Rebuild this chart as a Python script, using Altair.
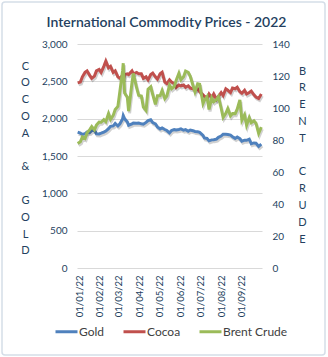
import altair as alt
import pandas as pd

dates = [
    "2021-12-30",
    "2022-01-03", "2022-01-06", "2022-01-10", "2022-01-13", "2022-01-17", "2022-01-20", "2022-01-24", "2022-01-27", "2022-01-31",
    "2022-02-03", "2022-02-07", "2022-02-10", "2022-02-14", "2022-02-17", "2022-02-21", "2022-02-24", "2022-02-28",
    "2022-03-03", "2022-03-07", "2022-03-08", "2022-03-10", "2022-03-14", "2022-03-16", "2022-03-21", "2022-03-23", "2022-03-28", "2022-03-31",
    "2022-04-04", "2022-04-07", "2022-04-11", "2022-04-14", "2022-04-18", "2022-04-21", "2022-04-25", "2022-04-28",
    "2022-05-02", "2022-05-05", "2022-05-09", "2022-05-12", "2022-05-16", "2022-05-19", "2022-05-23", "2022-05-26", "2022-05-30",
    "2022-06-02", "2022-06-06", "2022-06-09", "2022-06-13", "2022-06-16", "2022-06-20", "2022-06-23", "2022-06-27", "2022-06-30",
    "2022-07-05", "2022-07-07", "2022-07-11", "2022-07-14", "2022-07-18", "2022-07-21", "2022-07-25", "2022-07-28",
    "2022-08-01", "2022-08-04", "2022-08-08", "2022-08-11", "2022-08-15", "2022-08-18", "2022-08-22", "2022-08-25", "2022-08-29",
    "2022-09-01", "2022-09-05", "2022-09-08", "2022-09-12", "2022-09-15", "2022-09-19", "2022-09-22", "2022-09-26", "2022-09-30",
]

gold = [
    1820,
    1806, 1789, 1799, 1822, 1817, 1840, 1843, 1797, 1795,
    1805, 1820, 1834, 1866, 1898, 1903, 1935, 1902,
    1932, 1995, 2039, 1998, 1958, 1912, 1930, 1942, 1940, 1942,
    1931, 1925, 1950, 1973, 1985, 1948, 1930, 1890,
    1863, 1877, 1855, 1841, 1810, 1842, 1853, 1849, 1856,
    1863, 1845, 1853, 1831, 1848, 1839, 1829, 1825, 1817,
    1777, 1742, 1735, 1703, 1716, 1717, 1725, 1750,
    1767, 1792, 1790, 1788, 1779, 1759, 1736, 1754, 1732,
    1699, 1712, 1710, 1725, 1664, 1675, 1671, 1630, 1660,
]

cocoa = [
    2480,
    2490, 2560, 2620, 2640, 2580, 2540, 2570, 2640, 2660,
    2620, 2700, 2770, 2680, 2700, 2620, 2640, 2560,
    2540, 2580, 2520, 2590, 2600, 2590, 2640, 2600, 2620, 2600,
    2600, 2540, 2560, 2520, 2590, 2610, 2560, 2530,
    2600, 2620, 2490, 2470, 2520, 2490, 2470, 2420, 2450,
    2440, 2450, 2420, 2440, 2410, 2400, 2380, 2400, 2360,
    2320, 2300, 2270, 2330, 2280, 2330, 2260, 2300,
    2350, 2310, 2400, 2380, 2350, 2410, 2400, 2420, 2360,
    2340, 2380, 2330, 2350, 2370, 2320, 2290, 2270, 2330,
]

brent = [
    77.8,
    78.9, 81.9, 80.9, 84.5, 86.5, 88.4, 86.3, 89.3, 91.2,
    91.1, 92.7, 91.4, 96.5, 92.9, 95.4, 99.1, 101.0,
    110.5, 123.2, 128.0, 109.3, 106.9, 98.0, 115.6, 121.6, 112.5, 107.9,
    107.5, 100.6, 98.5, 111.7, 113.2, 108.3, 102.3, 107.6,
    107.6, 110.9, 105.9, 107.5, 114.2, 112.0, 113.4, 117.4, 121.7,
    117.6, 119.5, 123.1, 122.3, 119.8, 114.1, 110.1, 115.1, 114.8,
    102.8, 104.7, 107.1, 99.1, 106.3, 103.9, 105.2, 107.1,
    100.0, 94.1, 96.7, 99.6, 95.1, 96.6, 96.5, 99.3, 105.1,
    92.4, 95.7, 89.2, 94.0, 90.8, 92.0, 90.5, 84.1, 88.0,
]

series_names = ["Gold", "Cocoa", "Brent Crude"]
series_colors = ["#4F81BD", "#C0504D", "#9BBB59"]
month_ticks = [alt.DateTime(year=2022, month=m, date=1, utc=True) for m in range(1, 10)]
left_ticks = [0, 500, 1000, 1500, 2000, 2500, 3000]
right_ticks = [0, 20, 40, 60, 80, 100, 120, 140]
BL = "\u200b"
left_title = ["C", "O", "C", "O", "A", BL, "&", BL, "G", "O", "L", "D"]
right_title = ["B", "R", "E", "N", "T", BL, "C", "R", "U", "D", "E"]

left_df = pd.DataFrame({
    "date": dates * 2,
    "value": gold + cocoa,
    "series": ["Gold"] * len(dates) + ["Cocoa"] * len(dates),
})
right_df = pd.DataFrame({"date": dates, "value": brent, "series": ["Brent Crude"] * len(dates)})

TXT = "#243F60"
FONT = "Lato"

x_enc = alt.X(
    "date:T",
    scale=alt.Scale(
        type="utc",
        domain=[alt.DateTime(year=2021, month=12, date=29, utc=True),
                alt.DateTime(year=2022, month=10, date=1, utc=True)],
    ),
    axis=alt.Axis(
        title=None, values=month_ticks,
        labelExpr="utcFormat(datum.value, '%d/%m/%y')",
        labelAngle=-90, labelPadding=7, labelFontSize=9.5, labelColor=TXT,
        labelFont=FONT, domain=False, ticks=False, grid=False,
    ),
)

color_enc = alt.Color(
    "series:N",
    scale=alt.Scale(domain=series_names, range=series_colors),
    legend=alt.Legend(
        title=None, orient="none", legendX=-23, legendY=275, direction="horizontal",
        symbolType="stroke", symbolStrokeWidth=3, symbolSize=484,
        labelFontSize=12, labelColor="#404040", labelFont=FONT,
        labelOffset=0, columnPadding=12,
    ),
)

y_left = alt.Y(
    "value:Q",
    scale=alt.Scale(domain=[0, 3000]),
    axis=alt.Axis(
        orient="left", values=left_ticks,
        labelExpr="format(datum.value, ',')",
        labelFontSize=10, labelColor=TXT, labelFont=FONT, labelPadding=10,
        domain=False, ticks=False, grid=True, gridColor="#D9D9D9",
        title=left_title,
        titleAngle=0, titleAlign="center", titleBaseline="top",
        titleX=-52, titleY=16, titleLineHeight=16.8, titleFontSize=11,
        titleFontWeight="normal", titleColor=TXT, titleFont=FONT,
    ),
)

y_right = alt.Y(
    "value:Q",
    scale=alt.Scale(domain=[0, 140]),
    axis=alt.Axis(
        orient="right", values=right_ticks,
        labelFontSize=10, labelColor=TXT, labelFont=FONT, labelPadding=10,
        domain=False, ticks=False, grid=False,
        title=right_title,
        titleAngle=0, titleAlign="center", titleBaseline="top",
        titleX=40, titleY=21, titleLineHeight=16.8, titleFontSize=11,
        titleFontWeight="normal", titleColor=TXT, titleFont=FONT,
    ),
)

left_shadow = alt.Chart(left_df).mark_line(
    strokeWidth=3, color="#000000", opacity=0.18, xOffset=1, yOffset=2
).encode(x=x_enc, y=y_left, detail="series:N")
left = alt.Chart(left_df).mark_line(strokeWidth=3).encode(x=x_enc, y=y_left, color=color_enc)

right_shadow = alt.Chart(right_df).mark_line(
    strokeWidth=3, color="#000000", opacity=0.18, xOffset=1, yOffset=2
).encode(x=x_enc, y=y_right)
right = alt.Chart(right_df).mark_line(strokeWidth=3).encode(x=x_enc, y=y_right, color=color_enc)

border = alt.Chart(pd.DataFrame({"k": [0]})).mark_rect(
    fill=None, stroke="#D5DEE8", strokeWidth=1.5, cornerRadius=3
).encode(
    x=alt.value(-75), x2=alt.value(248), y=alt.value(-42), y2=alt.value(311)
)

chart = alt.layer(
    border,
    alt.layer(left_shadow, left),
    alt.layer(right_shadow, right),
).resolve_scale(y="independent").properties(
    width=185,
    height=224,
    title=alt.TitleParams(
        "International Commodity Prices - 2022", fontSize=14, font=FONT,
        fontWeight=600, color=TXT, anchor="middle", offset=13, dx=-3, dy=42,
    ),
    autosize=alt.AutoSizeParams(type="none"),
    padding={"left": 77, "top": 44, "right": 66, "bottom": 89},
    background="white",
).configure_view(stroke=None)

chart.save("out.html", embed_options={"renderer": "svg", "actions": False})
